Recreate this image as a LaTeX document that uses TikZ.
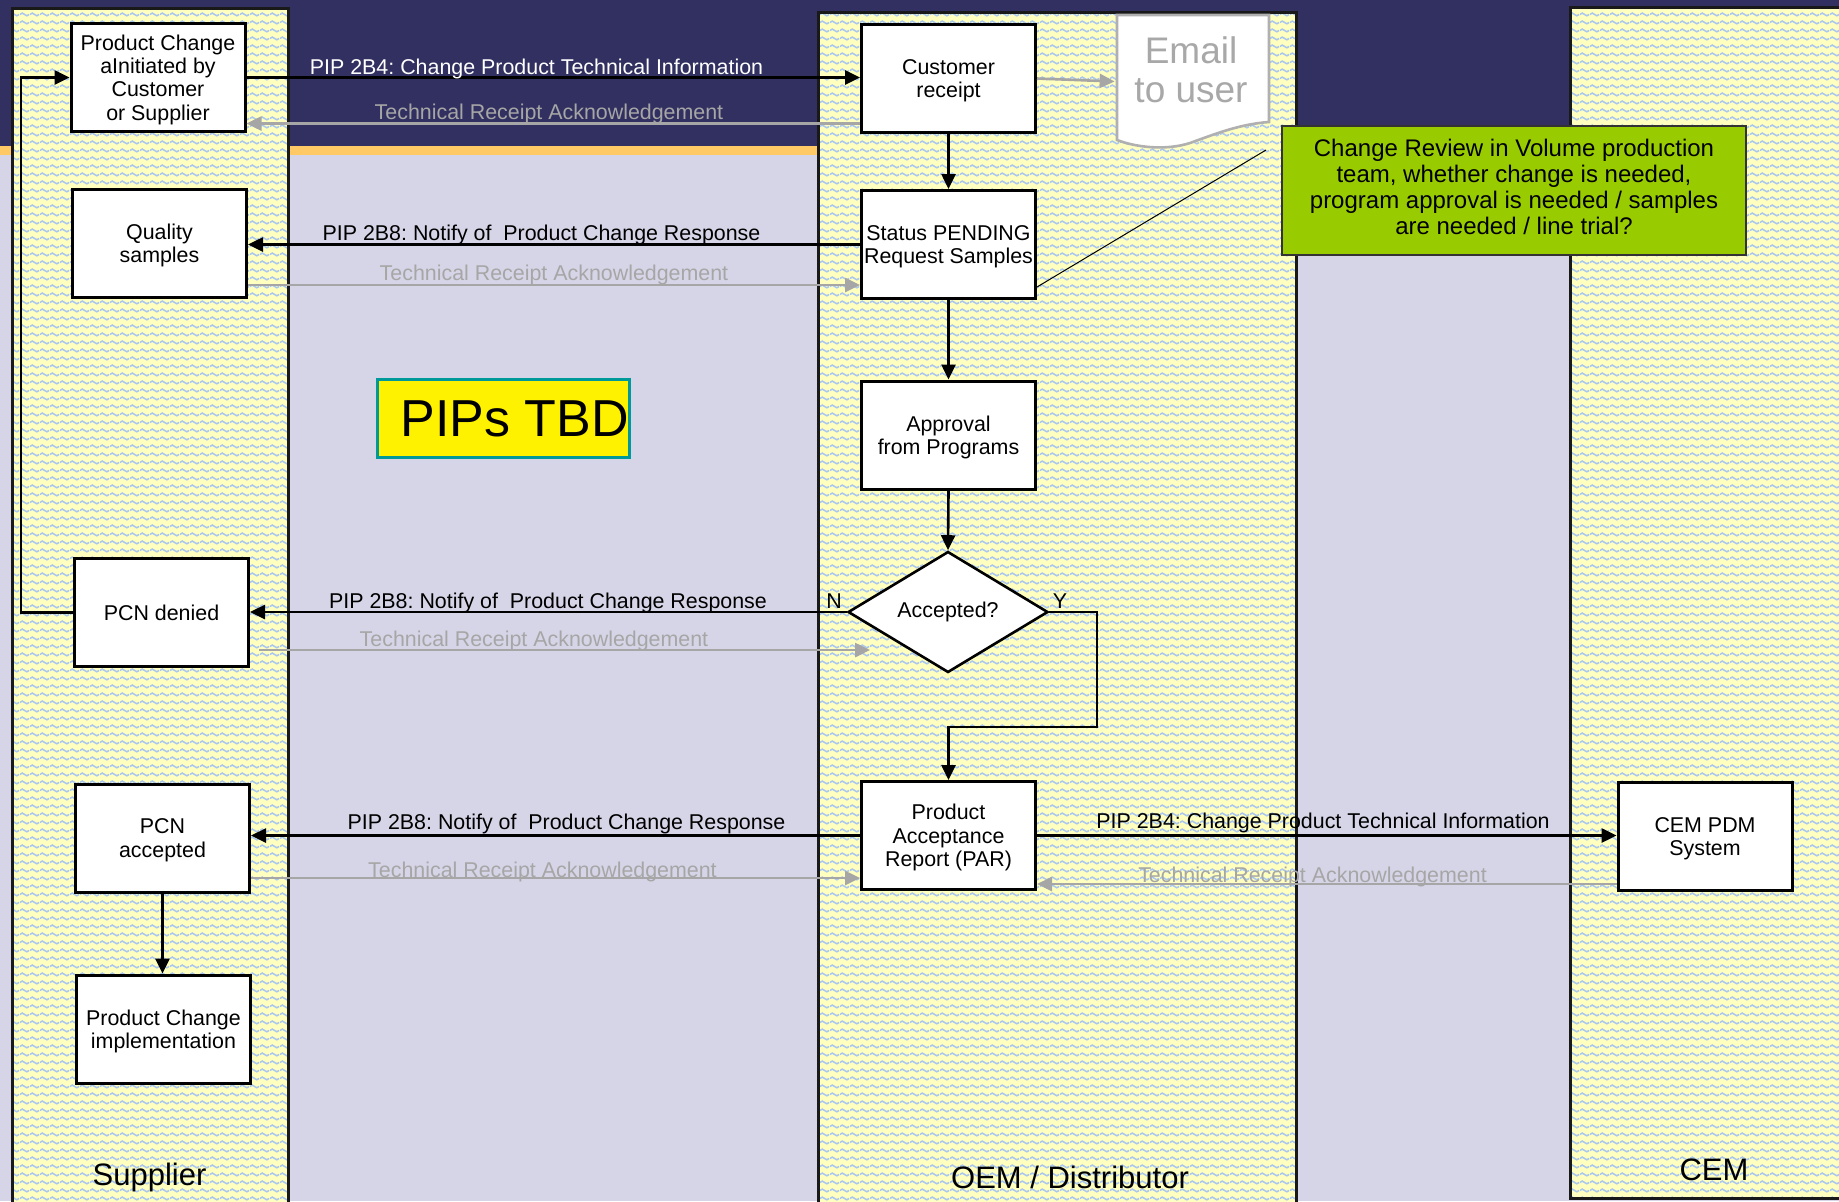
\documentclass[tikz,border=0pt]{standalone}
\usepackage{fontspec}
\setmainfont{Liberation Sans}
\usetikzlibrary{arrows.meta,shapes.geometric,patterns.meta}

\definecolor{bandnavy}{RGB}{50,48,96}
\definecolor{bandorange}{RGB}{255,201,102}
\definecolor{poolgrey}{RGB}{214,213,231}
\definecolor{laneyellow}{RGB}{255,255,192}
\definecolor{waveblue}{RGB}{168,198,240}
\definecolor{ackgrey}{RGB}{166,166,166}
\definecolor{notegreen}{RGB}{153,204,0}
\definecolor{tbdteal}{RGB}{0,153,153}
\definecolor{docgrey}{RGB}{176,176,176}
\definecolor{doctext}{RGB}{168,168,168}

% wavy texture used inside the swimlanes
\tikzdeclarepattern{
  name=lanewave,
  type=uncolored,
  bounding box={(0pt,0pt) and (5pt,4pt)},
  tile size={(5pt,4pt)},
  code={
    \draw[line width=0.85pt] (0pt,2pt) sin (1.25pt,2.75pt) cos (2.5pt,2pt)
      sin (3.75pt,1.25pt) cos (5pt,2pt);
  }
}

\frenchspacing

\begin{document}
\begin{tikzpicture}[x=0.5pt,y=-0.5pt,
  every node/.style={font=\fontsize{10.7}{11.7}\selectfont},
  stepbox/.style={draw=black, line width=1.5pt, fill=white, minimum width=87pt,
    minimum height=54pt, inner sep=0pt, align=center, text depth=0pt},
  decision/.style={diamond, draw=black, line width=1.3pt, fill=white, aspect=1.65,
    minimum width=100pt, minimum height=60.5pt, inner sep=0pt},
  conn/.style={draw=black, line width=1.3pt, -{Triangle[length=7.5pt,width=7pt]}},
  ack/.style={draw=ackgrey, line width=1.3pt, -{Triangle[length=7.5pt,width=7pt]}},
  msglabel/.style={anchor=base, inner sep=0pt},
  acklabel/.style={msglabel, text=ackgrey},
  lanelabel/.style={anchor=base, inner sep=0pt, font=\fontsize{15.5}{18}\selectfont},
  laneframe/.style={draw=black!90, line width=1.5pt},
  lanefill/.style={pattern=lanewave, pattern color=waveblue}
]
\useasboundingbox (0,0) rectangle (1839,1201);
\clip (0,0) rectangle (1839,1201);

% background bands
\fill[poolgrey] (0,0) rectangle (1839,1201);
\fill[bandnavy] (0,0) rectangle (1839,146);
\fill[bandorange] (0,146) rectangle (1839,155);

% swimlanes
\fill[laneyellow] (12,8) rectangle (288,1215);
\fill[lanefill] (12,8) rectangle (288,1215);
\draw[laneframe] (12,8) rectangle (288,1215);

\fill[laneyellow] (818,12) rectangle (1296,1215);
\fill[lanefill] (818,12) rectangle (1296,1215);
\draw[laneframe] (818,12) rectangle (1296,1215);

\fill[laneyellow] (1570,7) rectangle (1850,1198);
\fill[lanefill] (1570,7) rectangle (1850,1198);
\draw[laneframe] (1570,7) rectangle (1850,1198);

% lane titles
\node[lanelabel] (supplierlbl) at (149.5,1185) {Supplier};
\node[lanelabel] (oemlbl) at (1070,1188) {OEM / Distributor};
\node[lanelabel] (cemlbl) at (1714,1180) {CEM};

% supplier steps
\node[stepbox] (pc) at (158,77.5) {Product Change\\aInitiated by\\Customer\\or Supplier};
\node[stepbox] (qs) at (159.5,243) {Quality\\samples};
\node[stepbox] (pcnd) at (161.5,612.5) {PCN denied};
\node[stepbox] (pca) at (162.5,838) {PCN\\accepted};
\node[stepbox] (pci) at (163.5,1029) {Product Change\\implementation};

% OEM steps
\node[stepbox] (cr) at (948.5,78.5) {Customer\\receipt};
\node[stepbox] (st) at (948.5,244.5) {Status PENDING\\Request Samples};
\node[stepbox] (ap) at (948.5,435) {Approval\\from Programs};
\node[decision] (dia) at (948,612) {Accepted?};
\node[stepbox] (par) at (948.5,835.5) {Product\\Acceptance\\Report (PAR)};

% CEM step
\node[stepbox] (cem) at (1705,836.5) {CEM PDM\\System};

% e-mail document
\draw[docgrey, line width=1.3pt, fill=white] (1117,15) -- (1269,15) -- (1269,122)
  .. controls (1240,124) and (1215,134) .. (1190,143)
  .. controls (1165,151) and (1135,147) .. (1117,140) -- cycle;
\node[inner sep=0pt, minimum width=76pt, minimum height=55pt, align=center,
  text=doctext, font=\fontsize{18.5}{19.5}\selectfont] (email) at (1191,69.5) {Email\\to user};

% review note
\node[draw=black!80, line width=0.6pt, fill=notegreen, minimum width=232pt,
  minimum height=64.5pt, inner sep=0pt, align=center,
  font=\fontsize{12}{12.9}\selectfont] (note) at (1514,190.5)
  {Change Review in Volume production\\team, whether change is needed,\\program approval is needed / samples\\are needed / line trial?\\[-9.25pt]\mbox{}};
\coordinate (stnote) at ([yshift=-21.25pt]st.east);
\coordinate (noteline) at (1266,150);
\draw[line width=0.5pt] (stnote) -- (noteline);

% placeholder box
\node[draw=tbdteal, line width=1.5pt, fill=yellow, minimum width=126pt,
  minimum height=39pt, inner sep=0pt] (tbdbox) at (503.5,418.5) {};
\node[anchor=base west, inner sep=0pt, font=\fontsize{26}{30}\selectfont] (tbdtext)
  at (400,436) {PIPs TBD};

% flow inside OEM lane
\draw[conn] (cr.south) -- (st.north);
\draw[conn] (st.south) -- (ap.north);
\draw[conn] (ap.south) -- (dia.north);
\coordinate (yturn) at (1097,727);
\draw[conn] (dia.east) -| (yturn) -| (par.north);
\draw[ack] (cr.east) -- ([yshift=-6pt]email.west);

% flow inside supplier lane
\draw[conn] (pca.south) -- (pca.south |- pci.north);
\coordinate (loopx) at (21,0);
\draw[conn] (pcnd.west) -- (pcnd.west -| loopx) |- (pc.west);

% row 1 messages
\draw[conn] (pc.east) -- (pc.east -| cr.west);
\node[msglabel, text=white] (m1) at (536.5,74) {PIP 2B4: Change Product Technical Information};
\coordinate (r1a) at ([yshift=-22.5pt]cr.west);
\draw[ack] (r1a) -- (r1a -| pc.east);
\node[acklabel] (a1) at (549,119) {Technical Receipt Acknowledgement};

% row 2 messages
\draw[conn] (st.west) -- (st.west -| qs.east);
\node[msglabel] (m2) at (541.5,240) {PIP 2B8: Notify of~ Product Change Response};
\coordinate (r2a) at ([yshift=-21pt]qs.east);
\draw[ack] (r2a) -- (r2a -| st.west);
\node[acklabel] (a2) at (554,280) {Technical Receipt Acknowledgement};

% row 3 messages
\draw[conn] (dia.west) -- (dia.west -| pcnd.east);
\node[msglabel] (m3) at (548,608) {PIP 2B8: Notify of~ Product Change Response};
\node[msglabel] (nlbl) at (834,608) {N};
\node[msglabel] (ylbl) at (1060,608) {Y};
\coordinate (r3start) at ([xshift=4.5pt]pcnd.east);
\coordinate (r3end) at (870,650);
\draw[ack] (r3start |- r3end) -- (r3end);
\node[acklabel] (a3) at (534,646) {Technical Receipt Acknowledgement};

% row 4 messages
\draw[conn] (par.west) -- (par.west -| pca.east);
\node[msglabel] (m4) at (566.5,829) {PIP 2B8: Notify of~ Product Change Response};
\coordinate (r4a) at ([yshift=-20pt]pca.east);
\draw[ack] (r4a) -- (r4a -| par.west);
\node[acklabel] (a4) at (542.5,877) {Technical Receipt Acknowledgement};

% messages to the CEM
\draw[conn] (par.east) -- (par.east -| cem.west);
\node[msglabel] (m5) at (1323,828) {PIP 2B4: Change Product Technical Information};
\coordinate (r5a) at ([yshift=-23.75pt]cem.west);
\draw[ack] (r5a) -- (r5a -| par.east);
\node[acklabel] (a5) at (1312.5,882) {Technical Receipt Acknowledgement};
\end{tikzpicture}
\end{document}
